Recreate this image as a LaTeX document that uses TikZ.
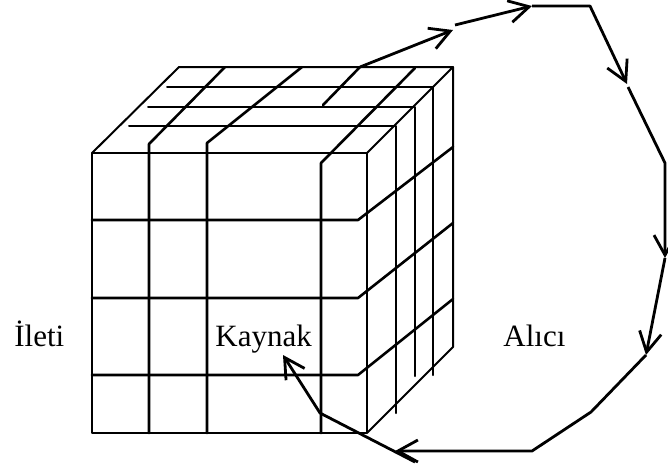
\documentclass[tikz,border=0pt]{standalone}
\usepackage{fontspec}
\setmainfont{Liberation Serif}
\usetikzlibrary{positioning,arrows.meta}

\begin{document}
\begin{tikzpicture}[
      x=0.5pt, y=-0.5pt,
      every node/.style={font=\fontsize{15.5}{18}\selectfont, inner sep=0pt},
      edge/.style={line width=1pt, line cap=round, line join=round},
      cut/.style={line width=1.3pt, line cap=round, line join=round},
      arrow/.style={-{Straight Barb[length=10pt, width=11pt]}, line width=1.4pt, line join=round},
  ]
    \useasboundingbox (0,0) rectangle (668,468);

    % Cube: front face and top face
    \draw[edge] (92,153) rectangle (367,433);
    \draw[edge] (92,153) -- (179,67) -- (453,67) -- (367,153);
    \draw[edge] (453,67) -- (453,347) -- (367,433);

    % Top layers, running down the side face
    \foreach \y/\a/\b/\e in {87/167/433/375, 107/148/415/376, 126/129/396/413}
      \draw[edge] (\a,\y) -- (\b,\y) -- (\b,\e);

    % Horizontal slices of the front, bent onto the side face
    \foreach \y/\e in {220/147, 298/223, 375/299}
      \draw[cut] (92,\y) -- (358,\y) -- (453,\e);

    % Vertical slices of the front, bent onto the top face
    \draw[cut] (149,433) -- (149,144) -- (225,67);
    \draw[cut] (207,433) -- (207,143) -- (302,67);
    \draw[cut] (321,433) -- (321,163) -- (415,68);
    \draw[cut] (323,105) -- (360,67);

    % Labels
    \node[anchor=base west] (ileti)  at (14,346)  {İleti};
    \node[anchor=base west] (kaynak) at (215,346) {Kaynak};
    \node[anchor=base west] (alici)  at (503,346) {Alıcı};

    % Path round the cube
    \coordinate (top)  at (360,67);
    \coordinate (w1)   at (453,30);
    \coordinate (w1b)  at (455,25);
    \coordinate (w2)   at (532,6);
    \coordinate (c1)   at (590,6);
    \coordinate (w3)   at (627,84);
    \coordinate (w3b)  at (628,87);
    \coordinate (c2)   at (665,163);
    \coordinate (w4)   at (665,258);
    \coordinate (w5)   at (646,355);
    \coordinate (c3)   at (591,412);
    \coordinate (c4)   at (532,451);
    \coordinate (w6)   at (395,451);
    \coordinate (w6b)  at (415,462);
    \coordinate (c5)   at (320,413);
    \coordinate (back) at (283,355);

    \draw[arrow] (top) -- (w1);
    \draw[arrow] (w1b) -- (w2);
    \draw[arrow] (w2) -- (c1) -- (w3);
    \draw[arrow] (w3b) -- (c2) -- (w4);
    \draw[arrow] (w4) -- (w5);
    \draw[arrow] (w5) -- (c3) -- (c4) -- (w6);
    \draw[arrow] (w6b) -- (c5) -- (back);
  \end{tikzpicture}
\end{document}
